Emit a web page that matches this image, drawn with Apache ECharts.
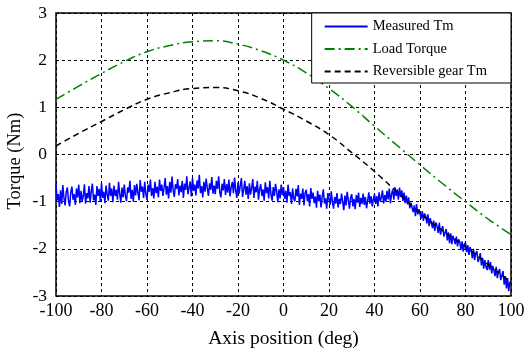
<!DOCTYPE html>
<html><head><meta charset="utf-8">
<script src="https://cdn.jsdelivr.net/npm/echarts@6/dist/echarts.min.js"></script>
<style>html,body{margin:0;padding:0;background:#fff}#c{width:531px;height:349px}</style>
</head><body><div id="c"></div>
<script>
const xTicks = [-100,-80,-60,-40,-20,0,20,40,60,80,100];
const yTicks = [-3,-2,-1,0,1,2,3];
const smoothX = [-100,-90,-80,-70,-60,-50,-40,-30,-20,-10,0,10,20,30,40,50,60,70,80,90,100];
const loadTorque = [1.17,1.45,1.72,1.97,2.18,2.31,2.39,2.41,2.34,2.20,2.00,1.73,1.40,1.02,0.60,0.19,-0.22,-0.62,-1.00,-1.37,-1.70];
const reversibleTm = [0.18,0.45,0.70,0.95,1.17,1.31,1.40,1.42,1.35,1.19,0.96,0.71,0.42,0.04,-0.36,-0.80,-1.24,-1.62,-1.95,-2.33,-2.71];
const measuredStart = -100;
const measuredStep = 0.5;
const measuredTm = [
-0.62,-0.97,-0.84,-1.11,-0.76,-1.05,-0.65,-0.92,-1.08,-0.79,
-0.70,-0.99,-1.10,-0.80,-0.68,-0.96,-0.84,-1.07,-0.72,-0.91,
-0.64,-1.03,-0.77,-0.99,-0.88,-0.63,-1.04,-0.82,-0.93,-0.67,
-1.02,-0.77,-0.62,-0.97,-0.85,-1.07,-0.67,-0.88,-0.73,-0.99,
-0.61,-0.92,-0.79,-1.03,-0.66,-0.85,-0.98,-0.60,-0.88,-0.72,
-1.01,-0.66,-0.88,-0.75,-0.96,-0.58,-0.83,-1.02,-0.70,-0.91,
-0.64,-0.88,-0.99,-0.70,-0.81,-0.56,-0.94,-0.75,-1.00,-0.65,
-0.87,-0.62,-0.81,-0.97,-0.54,-0.79,-0.68,-0.92,-0.58,-0.84,
-0.96,-0.64,-0.79,-0.53,-0.88,-0.71,-0.93,-0.58,-0.82,-0.68,
-0.91,-0.53,-0.77,-0.64,-0.88,-0.70,-0.50,-0.85,-0.67,-0.93,
-0.58,-0.81,-0.47,-0.76,-0.90,-0.63,-0.73,-0.52,-0.87,-0.66,
-0.80,-0.56,-0.92,-0.62,-0.75,-0.46,-0.84,-0.70,-0.57,-0.89,
-0.50,-0.77,-0.64,-0.87,-0.55,-0.72,-0.43,-0.82,-0.67,-0.91,
-0.58,-0.79,-0.51,-0.71,-0.88,-0.61,-0.75,-0.48,-0.83,-0.66,
-0.84,-0.56,-0.73,-0.46,-0.80,-0.91,-0.62,-0.76,-0.52,-0.86,
-0.63,-0.81,-0.53,-0.89,-0.69,-0.58,-0.82,-0.49,-0.76,-0.92,
-0.59,-0.83,-0.66,-0.50,-0.90,-0.74,-0.56,-0.85,-0.67,-0.94,
-0.61,-0.85,-0.71,-0.52,-0.92,-0.68,-0.80,-0.56,-0.96,-0.74,
-0.63,-0.88,-0.74,-0.98,-0.59,-0.82,-0.69,-0.93,-0.56,-0.85,
-0.98,-0.69,-0.88,-0.62,-0.78,-1.01,-0.74,-0.93,-0.64,-0.86,
-0.69,-0.94,-0.77,-1.02,-0.64,-0.88,-0.80,-1.05,-0.72,-0.93,
-0.99,-0.73,-0.89,-0.65,-1.07,-0.83,-0.94,-0.72,-1.08,-0.81,
-0.75,-0.99,-0.84,-1.10,-0.71,-0.94,-0.81,-1.03,-0.89,-1.13,
-0.77,-0.99,-0.85,-1.12,-0.90,-0.74,-1.04,-0.93,-1.15,-0.82,
-0.86,-1.07,-0.78,-1.01,-1.15,-0.90,-1.04,-0.82,-1.12,-0.94,
-1.05,-0.83,-1.00,-1.18,-0.87,-1.08,-0.79,-0.97,-1.15,-0.91,
-0.84,-1.10,-0.94,-1.16,-0.86,-1.02,-0.81,-1.11,-0.92,-1.05,
-0.83,-1.07,-0.90,-1.14,-0.98,-0.80,-1.04,-0.88,-1.10,-0.94,
-0.84,-1.05,-0.88,-1.10,-0.80,-0.99,-0.91,-0.76,-1.04,-0.86,
-1.00,-0.77,-0.95,-0.72,-1.03,-0.84,-0.74,-0.96,-0.69,-0.88,
-0.74,-0.96,-0.70,-0.90,-0.76,-0.99,-0.81,-1.03,-0.87,-1.06,
-0.91,-1.14,-1.02,-0.99,-1.22,-1.08,-1.31,-1.05,-1.27,-1.16,
-1.14,-1.36,-1.20,-1.41,-1.25,-1.30,-1.46,-1.27,-1.52,-1.35,
-1.35,-1.56,-1.40,-1.62,-1.44,-1.52,-1.66,-1.45,-1.70,-1.58,
-1.52,-1.74,-1.78,-1.58,-1.82,-1.65,-1.88,-1.67,-1.90,-1.72,
-1.70,-1.90,-1.74,-1.95,-1.80,-1.86,-2.02,-1.84,-2.06,-1.92,
-1.86,-2.07,-1.92,-2.13,-1.96,-2.04,-2.20,-2.00,-2.24,-2.10,
-2.05,-2.28,-2.21,-2.09,-2.35,-2.19,-2.42,-2.24,-2.38,-2.45,
-2.24,-2.44,-2.28,-2.52,-2.36,-2.40,-2.58,-2.38,-2.62,-2.48,
-2.43,-2.66,-2.56,-2.47,-2.76,-2.58,-2.84,-2.62,-2.90,-2.70,
-2.74];
const seriesNames = ['Measured Tm','Load Torque','Reversible gear Tm'];

const font = 'Liberation Serif, Times New Roman, serif';
const measuredData = measuredTm.map((v,i)=>[measuredStart+i*measuredStep, v]);
const loadData = smoothX.map((x,i)=>[x, loadTorque[i]]);
const revData = smoothX.map((x,i)=>[x, reversibleTm[i]]);

const chart = echarts.init(document.getElementById('c'), null, {renderer:'canvas'});
chart.setOption({
  animation:false,
  backgroundColor:'#fff',
  grid:{left:56, right:20, top:13, bottom:53, show:true, borderColor:'#000', borderWidth:1.5,
    backgroundColor:'transparent', containLabel:false, outerBoundsMode:'none'},
  graphic:[{type:'text', x:15.5, y:161, rotation:Math.PI/2,
    style:{text:'Torque (Nm)', font:'18.5px ' + font, fill:'#000', textAlign:'center', textVerticalAlign:'middle'}}],
  xAxis:{type:'value', min:xTicks[0], max:xTicks[xTicks.length-1], interval:20,
    name:'Axis position (deg)', nameLocation:'middle', nameGap:33, nameMoveOverlap:false,
    nameTextStyle:{fontFamily:font, fontSize:19.5, color:'#000'},
    axisLine:{show:false}, axisTick:{show:false},
    axisLabel:{fontFamily:font, fontSize:18, color:'#000', margin:6},
    splitLine:{show:true, lineStyle:{color:'#000', type:[3,3], width:1}}},
  yAxis:{type:'value', min:yTicks[0], max:yTicks[yTicks.length-1], interval:1,
    axisLine:{show:false}, axisTick:{show:false},
    axisLabel:{fontFamily:font, fontSize:17.5, color:'#000', margin:9},
    splitLine:{show:true, lineStyle:{color:'#000', type:[3,3], width:1}}},
  legend:{orient:'vertical', right:20, top:13, padding:[6,24,4,12], itemGap:7.5,
    itemWidth:43, itemHeight:14, backgroundColor:'#fff', borderColor:'#000', borderWidth:1,
    borderRadius:0, itemStyle:{opacity:0},
    textStyle:{fontFamily:font, fontSize:14.5, color:'#000'},
    data:seriesNames},
  series:[
    {name:seriesNames[0], type:'line', data:measuredData, showSymbol:false, symbol:'none',
      lineStyle:{color:'#0000ff', width:1.5}, itemStyle:{color:'#0000ff'}},
    {name:seriesNames[1], type:'line', data:loadData, smooth:true, showSymbol:false, symbol:'none',
      lineStyle:{color:'#008000', width:1.5, type:[10,4,2,4]}, itemStyle:{color:'#008000'}},
    {name:seriesNames[2], type:'line', data:revData, smooth:true, showSymbol:false, symbol:'none',
      lineStyle:{color:'#000', width:1.5, type:[6,4]}, itemStyle:{color:'#000'}}
  ]
});
</script></body></html>
